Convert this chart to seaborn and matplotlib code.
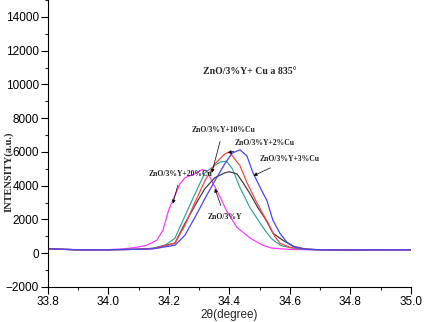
#XRD 피크 비교 차트
import matplotlib
matplotlib.use('Agg')
import matplotlib.pyplot as plt
import seaborn as sns
import pandas as pd
import numpy as np

#데이터
x_20cu = [33.8, 33.9, 34.0, 34.05, 34.094, 34.127, 34.16, 34.18, 34.2, 34.22, 34.236, 34.253, 34.286, 34.31, 34.325,
          34.345, 34.37, 34.39, 34.425, 34.47, 34.51, 34.54, 34.6, 34.7, 34.8, 34.9, 35.0]
y_20cu = [260, 200, 210, 250, 350, 470, 760, 1350, 2600, 3410, 4100, 4470, 4700, 4950, 4880,
          4170, 3300, 2530, 1530, 880, 470, 300, 220, 200, 190, 200, 200]

x_10cu = [33.8, 33.9, 34.0, 34.1, 34.15, 34.19, 34.22, 34.253, 34.286, 34.319, 34.352, 34.37, 34.39, 34.41, 34.435,
          34.468, 34.5, 34.52, 34.54, 34.57, 34.61, 34.65, 34.7, 34.8, 34.9, 35.0]
y_10cu = [250, 200, 200, 230, 300, 500, 880, 2200, 3500, 4760, 5200, 5400, 5450, 5000, 3880,
          2700, 1820, 1300, 850, 450, 290, 220, 200, 190, 200, 200]

x_2cu = [33.8, 33.9, 34.0, 34.1, 34.15, 34.22, 34.253, 34.286, 34.319, 34.352, 34.385, 34.4, 34.41, 34.435, 34.458,
         34.484, 34.51, 34.527, 34.55, 34.567, 34.6, 34.65, 34.7, 34.8, 34.9, 35.0]
y_2cu = [250, 200, 200, 230, 280, 590, 1650, 3000, 4290, 5290, 5880, 6000, 5760, 5180, 4180,
         3230, 2350, 1820, 1000, 590, 350, 230, 200, 190, 200, 200]

x_3cu = [33.8, 33.9, 34.0, 34.1, 34.15, 34.22, 34.253, 34.286, 34.319, 34.352, 34.385, 34.41, 34.435, 34.458, 34.478,
         34.507, 34.524, 34.544, 34.567, 34.59, 34.617, 34.65, 34.7, 34.8, 34.9, 35.0]
y_3cu = [260, 200, 200, 230, 260, 470, 1060, 2120, 3230, 4290, 5300, 5940, 6120, 5760, 4760,
         3700, 3120, 1940, 1180, 650, 350, 230, 200, 190, 200, 200]

x_base = [33.8, 33.9, 34.0, 34.1, 34.15, 34.22, 34.253, 34.286, 34.319, 34.352, 34.385, 34.4, 34.425, 34.445, 34.468,
          34.494, 34.52, 34.544, 34.577, 34.61, 34.65, 34.7, 34.8, 34.9, 35.0]
y_base = [250, 200, 200, 230, 280, 590, 1760, 2820, 3820, 4470, 4760, 4820, 4700, 4180, 3530,
          2700, 2000, 1180, 760, 410, 250, 200, 190, 200, 200]

#주석 (라벨, 텍스트 위치, 화살표 끝)
labels = ["ZnO/3%Y+10%Cu", "ZnO/3%Y+2%Cu", "ZnO/3%Y+3%Cu", "ZnO/3%Y+20%Cu", "ZnO/3%Y"]
text_xy = [(34.379, 7300), (34.517, 6530), (34.60, 5590), (34.24, 4700), (34.385, 2150)]
tip_xy = [(34.342, 4760), (34.395, 5940), (34.48, 4590), (34.213, 2940), (34.352, 3820)]

sns.set_style("ticks")
plt.rcParams['font.family'] = ['Liberation Sans', 'DejaVu Sans']

fig = plt.figure(figsize=(4.24, 3.22), dpi=100)
ax = fig.add_axes([0.113, 0.109, 0.856, 0.891])

series = [(x_20cu, y_20cu, '#ff3cff'), (x_10cu, y_10cu, '#3aa59a'), (x_base, y_base, '#404040'),
          (x_2cu, y_2cu, '#ff4545'), (x_3cu, y_3cu, '#4545ff')]
for xs, ys, c in series:
    sns.lineplot(x=xs, y=ys, color=c, linewidth=0.9, estimator=None, sort=False, ax=ax)

ax.set_xlim(33.8, 35.0)
ax.set_ylim(-2000, 15000)
ax.set_xticks(np.arange(33.8, 35.01, 0.2))
ax.set_xticks(np.arange(33.9, 35.0, 0.2), minor=True)
ax.set_yticks(np.arange(-2000, 14001, 2000))
ax.set_yticks(np.arange(-1000, 15001, 2000), minor=True)
ax.set_xticklabels(["33.8", "34.0", "34.2", "34.4", "34.6", "34.8", "35.0"])
ax.tick_params(axis='both', which='major', direction='out', length=5, width=0.8, labelsize=8.5, pad=1.5, colors='black')
ax.tick_params(axis='both', which='minor', direction='out', length=2.5, width=0.8)
for s in ['top', 'right']:
    ax.spines[s].set_visible(False)
for s in ['left', 'bottom']:
    ax.spines[s].set_linewidth(0.8)
    ax.spines[s].set_color('black')

ax.set_xlabel('2θ(degree)', fontsize=8.5, labelpad=1)
ax.set_ylabel('INTENSITY(a.u.)', fontsize=7.5, fontweight='bold', family=['Liberation Serif'])
ax.yaxis.set_label_coords(-0.094, 0.40)

ax.text(34.468, 10760, 'ZnO/3%Y+ Cu a 835°', fontsize=7, fontweight='bold', family=['Liberation Serif'],
        ha='center', va='center')

for lab, txy, tip in zip(labels, text_xy, tip_xy):
    ax.annotate(lab, xy=tip, xytext=txy, fontsize=5.5, fontweight='bold', family=['Liberation Serif'],
                ha='center', va='center',
                arrowprops=dict(arrowstyle='-|>', color='black', lw=0.5, mutation_scale=5, shrinkA=3, shrinkB=0))

fig.savefig('out.png', dpi=100)
